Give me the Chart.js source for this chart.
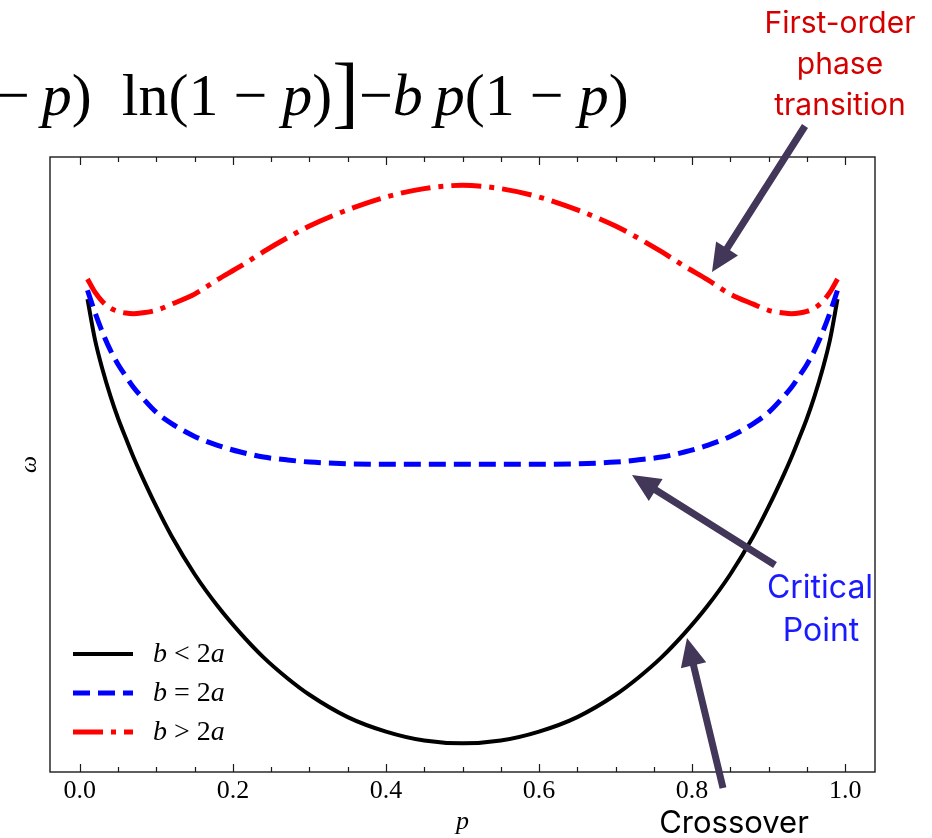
<!DOCTYPE html>
<html>
<head>
<meta charset="utf-8">
<script src="https://cdn.jsdelivr.net/npm/chart.js@4.4.1/dist/chart.umd.min.js"></script>
<style>
  html, body { margin: 0; padding: 0; background: #fff; }
  #wrap { position: relative; width: 932px; height: 838px; overflow: hidden; }
  #c { position: absolute; left: 0; top: 0; }
  .note { position: absolute; font-family: Inter, "Open Sans", sans-serif; text-align: center; white-space: nowrap; line-height: 1; }
  #formula { position: absolute; left: -4px; top: 58px; font-family: "Liberation Serif", "Times New Roman", serif; font-size: 60px; line-height: 60px; white-space: nowrap; color: #000; }
  #formula i { font-style: italic; }
  #arrows { position: absolute; left: 0; top: 0; }
</style>
</head>
<body>
<div id="wrap">
  <canvas id="c" width="932" height="838"></canvas>
  <div id="formula">−&#8201;<i>p</i>)&ensp;ln(1 − <i>p</i>)<span style="font-size:80px;position:relative;top:3px;">]</span>−<i>b</i>&#8201;<i>p</i>(1 − <i>p</i>)</div>
  <svg id="arrows" width="932" height="838"></svg>
  <div class="note" style="left:740px; top:7px; width:200px; color:#d40000; font-size:30px;">First-order</div>
  <div class="note" style="left:740px; top:48px; width:200px; color:#d40000; font-size:30px;">phase</div>
  <div class="note" style="left:740px; top:89px; width:200px; color:#d40000; font-size:30px;">transition</div>
  <div class="note" style="left:720px; top:571px; width:200px; color:#1a1aff; font-size:32px;">Critical</div>
  <div class="note" style="left:721px; top:614px; width:200px; color:#1a1aff; font-size:32px;">Point</div>
  <div class="note" style="left:634px; top:806px; width:200px; color:#000; font-size:31px;">Crossover</div>
</div>
<script>
// ---------------- data ----------------
const pValues = [0.01,0.02,0.03,0.04,0.05,0.06,0.07,0.08,0.10,0.12,0.15,0.18,0.21,0.24,0.27,0.30,0.35,0.40,0.45,0.50,
                 0.55,0.60,0.65,0.70,0.73,0.76,0.79,0.82,0.85,0.88,0.90,0.92,0.93,0.94,0.95,0.96,0.97,0.98,0.99];

// omega (arbitrary units) for b < 2a  (crossover)
const omegaBelow = [0.796,0.722,0.668,0.622,0.582,0.547,0.513,0.482,0.424,0.371,0.303,0.246,0.197,0.154,0.118,0.087,0.047,0.021,0.005,0.000,
                    0.005,0.021,0.047,0.087,0.118,0.154,0.197,0.246,0.303,0.371,0.424,0.482,0.513,0.547,0.582,0.622,0.668,0.722,0.796];
// omega for b = 2a  (critical point)
const omegaCritical = [0.812,0.771,0.735,0.704,0.679,0.658,0.638,0.622,0.593,0.573,0.550,0.534,0.522,0.513,0.508,0.504,0.501,0.500,0.500,0.500,
                       0.500,0.500,0.501,0.504,0.508,0.513,0.522,0.534,0.550,0.573,0.593,0.622,0.638,0.658,0.679,0.704,0.735,0.771,0.812];
// omega for b > 2a  (first-order transition)
const omegaAbove = [0.832,0.808,0.791,0.780,0.774,0.771,0.770,0.771,0.776,0.787,0.805,0.831,0.855,0.881,0.905,0.927,0.956,0.979,0.994,1.000,
                    0.994,0.979,0.956,0.927,0.905,0.881,0.855,0.831,0.805,0.787,0.776,0.771,0.770,0.771,0.774,0.780,0.791,0.808,0.832];

const xTickValues = [0.0,0.2,0.4,0.6,0.8,1.0];
const xMinorTickValues = [0.05,0.10,0.15,0.25,0.30,0.35,0.45,0.50,0.55,0.65,0.70,0.75,0.85,0.90,0.95];
const legendLabels = [["b"," < ","2","a"],["b"," = ","2","a"],["b"," > ","2","a"]];
const seriesNames = ["b < 2a","b = 2a","b > 2a"];

// ---------------- chart ----------------
const toPts = arr => pValues.map((p, i) => ({x: p, y: arr[i]}));

const frameAndTicks = {
  id: 'frameAndTicks',
  afterDraw(chart) {
    const {ctx, chartArea: {left, right, top, bottom}, scales: {x}} = chart;
    ctx.save();
    ctx.strokeStyle = '#1a1a1a';
    ctx.lineWidth = 1.4;
    ctx.strokeRect(left, top, right - left, bottom - top);
    const drawTick = (v, len) => {
      const px = Math.round(x.getPixelForValue(v)) + 0.5;
      ctx.beginPath();
      ctx.moveTo(px, bottom); ctx.lineTo(px, bottom - len);
      ctx.moveTo(px, top); ctx.lineTo(px, top + len);
      ctx.stroke();
    };
    ctx.lineWidth = 1.2;
    xTickValues.forEach(v => drawTick(v, 8));
    xMinorTickValues.forEach(v => drawTick(v, 5));
    ctx.restore();
  }
};

const mathLegend = {
  id: 'mathLegend',
  afterDatasetsDraw(chart) {
    const {ctx} = chart;
    const rowY = [654, 693, 732];
    chart.data.datasets.forEach((ds, i) => {
      const y = rowY[i];
      ctx.save();
      ctx.strokeStyle = ds.borderColor;
      ctx.lineWidth = ds.borderWidth;
      ctx.setLineDash(ds.borderDash || []);
      ctx.beginPath();
      ctx.moveTo(73, y); ctx.lineTo(133, y);
      ctx.stroke();
      ctx.setLineDash([]);
      ctx.fillStyle = '#000';
      ctx.textBaseline = 'middle';
      let tx = 153;
      legendLabels[i].forEach((part, k) => {
        const italic = (k === 0 || k === 3);
        ctx.font = (italic ? 'italic ' : '') + '28px "Liberation Serif", serif';
        ctx.fillText(part, tx, y + 1);
        tx += ctx.measureText(part).width;
      });
      ctx.restore();
    });
  }
};

new Chart(document.getElementById('c'), {
  type: 'line',
  data: {
    datasets: [
      { label: seriesNames[0], data: toPts(omegaBelow), borderColor: '#000000', borderWidth: 4,
        pointRadius: 0, cubicInterpolationMode: 'monotone', fill: false, order: 2 },
      { label: seriesNames[1], data: toPts(omegaCritical), borderColor: '#0000ff', borderWidth: 5,
        borderDash: [17, 8], pointRadius: 0, cubicInterpolationMode: 'monotone', fill: false, order: 1 },
      { label: seriesNames[2], data: toPts(omegaAbove), borderColor: '#ff0000', borderWidth: 5,
        borderDash: [30, 8, 5, 8], pointRadius: 0, cubicInterpolationMode: 'monotone', fill: false, order: 0 }
    ]
  },
  options: {
    responsive: false,
    animation: false,
    devicePixelRatio: 1,
    events: [],
    layout: { autoPadding: false, padding: { left: 17, right: 57, top: 157, bottom: 0 } },
    plugins: { legend: { display: false }, tooltip: { enabled: false } },
    scales: {
      x: {
        type: 'linear', min: -0.039, max: 1.039,
        afterBuildTicks: s => { s.ticks = xTickValues.map(v => ({value: v})); },
        afterFit: s => { s.height = 66; },
        ticks: { callback: v => Number(v).toFixed(1), font: { family: '"Liberation Serif", serif', size: 26, lineHeight: 1 },
                 color: '#000', padding: 6, maxRotation: 0, autoSkip: false },
        grid: { display: false, drawTicks: false },
        border: { display: false },
        title: { display: true, text: 'p', color: '#000',
                 font: { family: '"Liberation Serif", serif', size: 26, style: 'italic', lineHeight: 1.2 },
                 padding: { top: 0, bottom: 0 } }
      },
      y: {
        type: 'linear', min: -0.0514, max: 1.0507,
        afterFit: s => { s.width = 33; },
        ticks: { display: false },
        grid: { display: false, drawTicks: false },
        border: { display: false },
        title: { display: true, text: 'ω', color: '#000',
                 font: { family: '"Liberation Serif", serif', size: 24, style: 'italic', lineHeight: 1 },
                 padding: { top: 1, bottom: 8 } }
      }
    }
  },
  plugins: [frameAndTicks, mathLegend]
});

// ---------------- annotation arrows ----------------
function arrowPoly(x1, y1, x2, y2, shaft, headW, headL) {
  const dx = x2 - x1, dy = y2 - y1, L = Math.hypot(dx, dy);
  const ux = dx / L, uy = dy / L, nx = -uy, ny = ux;
  const bx = x2 - ux * headL, by = y2 - uy * headL;
  const pts = [
    [x1 + nx * shaft / 2, y1 + ny * shaft / 2],
    [bx + nx * shaft / 2, by + ny * shaft / 2],
    [bx + nx * headW / 2, by + ny * headW / 2],
    [x2, y2],
    [bx - nx * headW / 2, by - ny * headW / 2],
    [bx - nx * shaft / 2, by - ny * shaft / 2],
    [x1 - nx * shaft / 2, y1 - ny * shaft / 2]
  ];
  return pts.map(p => p[0].toFixed(1) + ',' + p[1].toFixed(1)).join(' ');
}
const svg = document.getElementById('arrows');
[[805, 126, 712, 272], [775, 565, 632, 475], [723, 788, 687, 638]].forEach(a => {
  const poly = document.createElementNS('http://www.w3.org/2000/svg', 'polygon');
  poly.setAttribute('points', arrowPoly(a[0], a[1], a[2], a[3], 7, 26, 28));
  poly.setAttribute('fill', '#423659');
  svg.appendChild(poly);
});
</script>
</body>
</html>
